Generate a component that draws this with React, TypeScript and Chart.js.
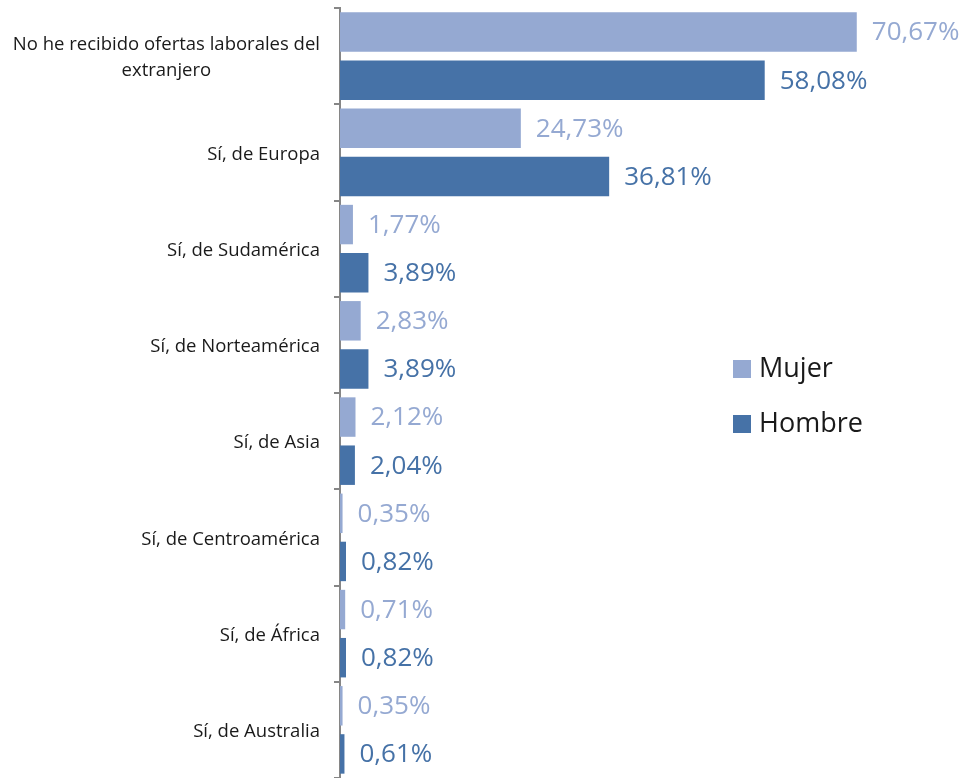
import React, { useEffect, useRef } from "react";
import { Chart, registerables } from "chart.js";

Chart.register(...registerables);

const categories: (string | string[])[] = [
  ["No he recibido ofertas laborales del", "extranjero"],
  "Sí, de Europa",
  "Sí, de Sudamérica",
  "Sí, de Norteamérica",
  "Sí, de Asia",
  "Sí, de Centroamérica",
  "Sí, de África",
  "Sí, de Australia",
];
const mujer = [70.67, 24.73, 1.77, 2.83, 2.12, 0.35, 0.71, 0.35];
const hombre = [58.08, 36.81, 3.89, 3.89, 2.04, 0.82, 0.82, 0.61];
const seriesNames = ["Mujer", "Hombre"];
const colors = ["#95A9D2", "#4672A7"];

const FONT = "'Open Sans', 'Noto Sans', sans-serif";

const fmt = (v: number) => v.toFixed(2).replace(".", ",") + "%";

const yLabelPlugin = {
  id: "yLabels",
  afterDraw(chart: any) {
    const ctx = chart.ctx;
    const scale = chart.scales.y;
    const right = scale.right - 20;
    ctx.save();
    ctx.font = `18.5px ${FONT}`;
    ctx.fillStyle = "#1a1a1a";
    ctx.textBaseline = "middle";
    const lh = 26;
    categories.forEach((lab, i) => {
      const cy = scale.getPixelForValue(i) + 2;
      const lines = Array.isArray(lab) ? lab : [lab];
      const maxW = Math.max(...lines.map((l) => ctx.measureText(l).width));
      const cx = right - maxW / 2;
      ctx.textAlign = "center";
      lines.forEach((l, j) => {
        ctx.fillText(l, cx, cy + (j - (lines.length - 1) / 2) * lh);
      });
    });
    ctx.restore();
  },
};

const dataLabelPlugin = {
  id: "dataLabels",
  afterDatasetsDraw(chart: any) {
    const ctx = chart.ctx;
    ctx.save();
    ctx.font = `26px ${FONT}`;
    ctx.textAlign = "left";
    ctx.textBaseline = "middle";
    chart.data.datasets.forEach((ds: any, di: number) => {
      const meta = chart.getDatasetMeta(di);
      ctx.fillStyle = colors[di];
      meta.data.forEach((bar: any, i: number) => {
        ctx.fillText(fmt(ds.data[i]), bar.x + 15, bar.y + 1);
      });
    });
    ctx.restore();
  },
};

const legendPlugin = {
  id: "customLegend",
  afterDraw(chart: any) {
    const ctx = chart.ctx;
    const ca = chart.chartArea;
    ctx.save();
    ctx.font = `27px ${FONT}`;
    ctx.textAlign = "left";
    ctx.textBaseline = "middle";
    const x0 = ca.left + 393;
    const y0 = 369;
    seriesNames.forEach((name, i) => {
      const cy = y0 + i * 55;
      ctx.fillStyle = colors[i];
      ctx.fillRect(x0, cy - 9, 18, 18);
      ctx.fillStyle = "#1a1a1a";
      ctx.fillText(name, x0 + 26, cy);
    });
    ctx.restore();
  },
};

export default function App() {
  const ref = useRef<HTMLCanvasElement>(null);
  useEffect(() => {
    document.body.style.margin = "0";
    const chart = new Chart(ref.current!, {
      type: "bar",
      data: {
        labels: categories as any,
        datasets: [
          { label: seriesNames[0], data: mujer, backgroundColor: colors[0], categoryPercentage: 1.0, barPercentage: 0.82 },
          { label: seriesNames[1], data: hombre, backgroundColor: colors[1], categoryPercentage: 1.0, barPercentage: 0.82 },
        ],
      },
      options: {
        indexAxis: "y",
        animation: false,
        responsive: false,
        devicePixelRatio: 1,
        layout: { padding: { top: 8, right: 40, bottom: 0, left: 0 } },
        plugins: { legend: { display: false }, tooltip: { enabled: false } },
        scales: {
          x: { display: false, min: 0, max: 80 },
          y: {
            offset: true,
            ticks: { display: false },
            grid: {
              offset: true,
              drawOnChartArea: false,
              drawTicks: true,
              tickLength: 6,
              color: "#868686",
              lineWidth: 2,
            },
            border: { display: true, color: "#868686", width: 2 },
            afterFit: (scale: any) => {
              scale.width = 340;
            },
          },
        },
      },
      plugins: [yLabelPlugin, dataLabelPlugin, legendPlugin],
    });
    return () => chart.destroy();
  }, []);
  return (
    <div style={{ position: "absolute", left: 0, top: 0, width: 965, height: 778, background: "#fff" }}>
      <canvas ref={ref} width={965} height={778} />
    </div>
  );
}
